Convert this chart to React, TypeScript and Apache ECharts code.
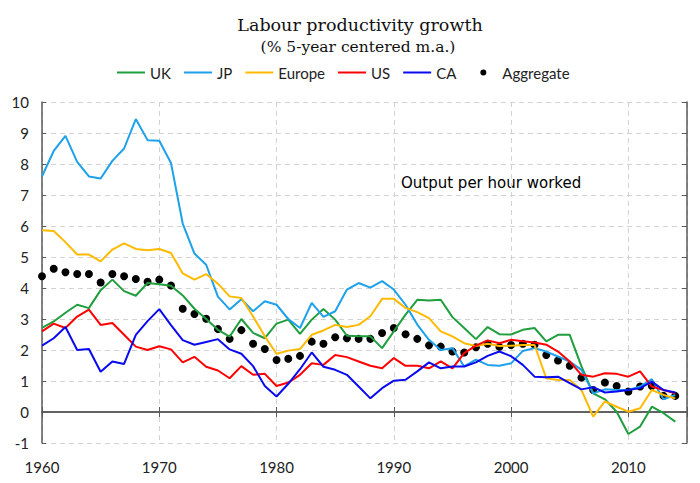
import React, { useEffect, useRef } from "react";
import * as echarts from "echarts";

const years: number[] = [];
for (let y = 1960; y <= 2014; y++) years.push(y);

const ukValues = [
  2.71, 2.92, 3.2, 3.46, 3.35, 3.93, 4.27, 3.9, 3.75, 4.16,
  4.12, 4.07, 3.76, 3.33, 3.0, 2.65, 2.43, 3.0, 2.55, 2.38,
  2.85, 2.98, 2.52, 2.98, 3.32, 2.98, 2.46, 2.44, 2.44, 2.06,
  2.6, 3.14, 3.62, 3.6, 3.62, 3.06, 2.71, 2.35, 2.74, 2.51,
  2.5, 2.65, 2.71, 2.28, 2.49, 2.49, 1.47, 0.6, 0.41, 0.01,
  -0.71, -0.47, 0.17, -0.04, -0.31,
];
const jpValues = [
  7.6, 8.42, 8.91, 8.07, 7.6, 7.53, 8.1, 8.5, 9.45, 8.77,
  8.75, 8.03, 6.08, 5.11, 4.75, 3.72, 3.31, 3.64, 3.25, 3.57,
  3.46, 3.0, 2.71, 3.52, 3.07, 3.25, 3.95, 4.16, 4.01, 4.22,
  3.95, 3.46, 2.82, 2.33, 2.0, 2.06, 1.47, 1.69, 1.52, 1.49,
  1.57, 1.97, 2.06, 1.95, 1.79, 1.63, 1.36, 0.6, 0.73, 0.71,
  0.71, 0.82, 1.06, 0.41, 0.55,
];
const europeValues = [
  5.86, 5.84, 5.48, 5.08, 5.08, 4.86, 5.24, 5.44, 5.26, 5.22,
  5.26, 5.13, 4.47, 4.27, 4.45, 4.14, 3.73, 3.68, 3.08, 2.44,
  1.88, 1.98, 2.03, 2.49, 2.63, 2.81, 2.74, 2.81, 3.09, 3.65,
  3.65, 3.36, 3.22, 3.03, 2.6, 2.44, 2.22, 2.13, 2.2, 2.13,
  2.14, 2.16, 2.16, 1.09, 1.03, 1.03, 0.71, -0.15, 0.34, 0.17,
  0.01, 0.12, 0.71, 0.55, 0.44,
];
const usValues = [
  2.6, 2.85, 2.71, 3.08, 3.3, 2.81, 2.87, 2.49, 2.11, 2.0,
  2.12, 2.02, 1.6, 1.78, 1.46, 1.34, 1.09, 1.48, 1.2, 1.23,
  0.84, 0.95, 1.2, 1.57, 1.52, 1.84, 1.77, 1.63, 1.49, 1.41,
  1.74, 1.49, 1.49, 1.41, 1.63, 1.41, 1.9, 2.14, 2.31, 2.22,
  2.33, 2.28, 2.24, 2.17, 1.95, 1.63, 1.2, 1.14, 1.25, 1.23,
  1.14, 1.31, 0.82, 0.71, 0.6,
];
const caValues = [
  2.14, 2.38, 2.74, 2.0, 2.03, 1.3, 1.63, 1.55, 2.49, 2.93,
  3.32, 2.8, 2.32, 2.17, 2.26, 2.35, 2.02, 1.88, 1.48, 0.84,
  0.5, 0.91, 1.38, 1.92, 1.46, 1.36, 1.2, 0.82, 0.44, 0.77,
  1.01, 1.04, 1.31, 1.6, 1.41, 1.47, 1.47, 1.6, 1.81, 1.95,
  1.8, 1.52, 1.14, 1.12, 1.14, 0.93, 0.73, 0.8, 0.63, 0.66,
  0.71, 0.77, 0.98, 0.71, 0.63,
];
const aggregateValues = [
  4.38, 4.62, 4.51, 4.45, 4.45, 4.18, 4.45, 4.38, 4.29, 4.2,
  4.27, 4.08, 3.33, 3.16, 3.01, 2.68, 2.36, 2.64, 2.2, 2.03,
  1.68, 1.72, 1.81, 2.27, 2.2, 2.41, 2.38, 2.36, 2.36, 2.55,
  2.71, 2.51, 2.36, 2.15, 2.11, 1.95, 1.92, 2.09, 2.2, 2.1,
  2.16, 2.2, 2.17, 1.84, 1.66, 1.49, 1.11, 0.71, 0.95, 0.84,
  0.66, 0.82, 0.84, 0.52, 0.52,
];

const seriesNames = ["UK", "JP", "Europe", "US", "CA", "Aggregate"];
const seriesColors = ["#1F9E3E", "#1DA1EA", "#FFBA00", "#FF0000", "#0A0AF0", "#000000"];
const titleText = "Labour productivity growth";
const subtitleText = "(% 5-year centered m.a.)";
const annotationText = "Output per hour worked";

const pairs = (vals: number[]) => vals.map((v, i) => [years[i], v]);

const axisColor = "#5a5a5a";
const gridColor = "#d3d3d3";
const labelFont = "Lato, 'Liberation Sans', sans-serif";
const lineIcon = "path://M0,6L28,6L28,8L0,8Z";
const dotIcon =
  "path://M0,0L0.01,0L0,0.01Z M28,14L28.01,14L28,14.01Z M11,7A3,3,0,1,0,17,7A3,3,0,1,0,11,7Z";

export default function App() {
  const ref = useRef<HTMLDivElement>(null);

  useEffect(() => {
    if (!ref.current) return;
    const chart = echarts.init(ref.current, null, { renderer: "svg" });
    const lineData = [ukValues, jpValues, europeValues, usValues, caValues];
    const series: any[] = lineData.map((vals, i) => ({
      name: seriesNames[i],
      type: "line",
      data: pairs(vals),
      symbol: "none",
      showSymbol: false,
      color: seriesColors[i],
      itemStyle: { color: seriesColors[i] },
      lineStyle: { width: 2, color: seriesColors[i] },
      silent: true,
    }));
    series.push({
      name: "Aggregate",
      type: "scatter",
      data: pairs(aggregateValues),
      symbol: "circle",
      symbolSize: 8,
      color: "#000",
      itemStyle: { color: "#000", opacity: 1 },
      silent: true,
    });

    chart.setOption({
      animation: false,
      backgroundColor: "#fff",
      grid: {
        left: 42,
        right: 13,
        top: 102,
        bottom: 40,
        containLabel: false,
        outerBoundsMode: "none",
      },
      legend: {
        left: 117,
        top: 65,
        padding: 0,
        itemWidth: 28,
        itemHeight: 14,
        itemGap: 13,
        textStyle: { fontFamily: labelFont, fontSize: 15, color: "#222" },
        data: [
          { name: "UK", icon: lineIcon },
          { name: "JP", icon: lineIcon },
          { name: "Europe", icon: lineIcon },
          { name: "US", icon: lineIcon },
          { name: "CA", icon: lineIcon },
          { name: "Aggregate", icon: dotIcon, itemStyle: { color: "#000", opacity: 1 } },
        ],
      },
      graphic: [
        {
          type: "text",
          x: 360,
          y: 25,
          style: {
            text: titleText,
            fontFamily: "'DejaVu Serif', serif",
            fontSize: 17.5,
            fill: "#111",
            align: "center",
            verticalAlign: "middle",
          },
        },
        {
          type: "text",
          x: 358,
          y: 47,
          style: {
            text: subtitleText,
            fontFamily: "'DejaVu Serif', serif",
            fontSize: 15.5,
            fill: "#111",
            align: "center",
            verticalAlign: "middle",
          },
        },
        {
          type: "text",
          x: 401,
          y: 183,
          style: {
            text: annotationText,
            fontFamily: "'DejaVu Sans', sans-serif",
            fontSize: 15,
            fill: "#000",
            align: "left",
            verticalAlign: "middle",
          },
        },
      ],
      xAxis: [
        {
          type: "value",
          position: "bottom",
          min: 1960,
          max: 2015,
          interval: 10,
          axisLine: { show: true, lineStyle: { color: axisColor, width: 1.5 } },
          axisTick: { show: true, inside: true, length: 5, lineStyle: { color: axisColor } },
          axisLabel: {
            margin: 16,
            fontFamily: labelFont,
            fontSize: 15,
            color: "#222",
            formatter: (v: number) => (v % 10 === 0 ? String(v) : ""),
          },
          splitLine: { show: true, lineStyle: { color: gridColor, type: [5, 4], width: 1 } },
        },
        {
          type: "value",
          position: "top",
          min: 1960,
          max: 2015,
          interval: 10,
          axisLine: { show: true, lineStyle: { color: axisColor, width: 1.5 } },
          axisTick: { show: true, inside: true, length: 5, lineStyle: { color: axisColor } },
          axisLabel: { show: false },
          splitLine: { show: false },
        },
      ],
      yAxis: [
        {
          type: "value",
          position: "left",
          min: -1,
          max: 10,
          interval: 1,
          axisLine: { show: true, lineStyle: { color: axisColor, width: 1.5 } },
          axisTick: { show: true, inside: true, length: 4, lineStyle: { color: axisColor } },
          axisLabel: { margin: 13, fontFamily: labelFont, fontSize: 15, color: "#222" },
          splitLine: { show: true, lineStyle: { color: gridColor, type: [5, 4], width: 1 } },
        },
        {
          type: "value",
          position: "right",
          min: -1,
          max: 10,
          interval: 1,
          axisLine: { show: true, lineStyle: { color: axisColor, width: 1.5 } },
          axisTick: { show: true, inside: true, length: 5, lineStyle: { color: axisColor } },
          axisLabel: { show: false },
          splitLine: { show: false },
        },
      ],
      series,
    });
    return () => chart.dispose();
  }, []);

  return (
    <div
      ref={ref}
      style={{ position: "absolute", left: 0, top: 0, width: 700, height: 483, background: "#fff" }}
    />
  );
}
